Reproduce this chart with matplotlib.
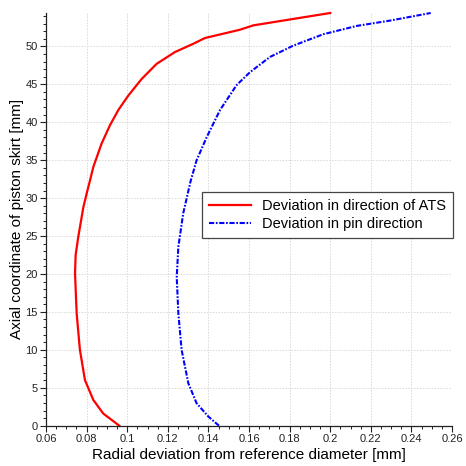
import matplotlib
matplotlib.use("Agg")
import matplotlib.pyplot as plt
from matplotlib.ticker import MultipleLocator

plt.rcParams['font.family'] = ['Liberation Sans', 'DejaVu Sans']

# Deviation in direction of ATS
ats_x = [0.0961, 0.0882, 0.0833, 0.0792, 0.0767, 0.0751, 0.0743, 0.0746, 0.0759,
         0.0784, 0.0804, 0.0817, 0.0833, 0.0874, 0.0915, 0.0956, 0.1005, 0.1071,
         0.1145, 0.1235, 0.1326, 0.1383, 0.1556, 0.1621, 0.2000]
ats_y = [0.0, 1.6, 3.4, 6.0, 10.0, 14.8, 20.1, 22.5, 24.9,
         28.8, 31.0, 32.35, 34.1, 37.2, 39.6, 41.6, 43.5, 45.7,
         47.7, 49.25, 50.35, 51.1, 52.2, 52.77, 54.4]

# Deviation in pin direction
pin_x = [0.1452, 0.1400, 0.1342, 0.1301, 0.1268, 0.1252, 0.1244, 0.1252, 0.1276,
         0.1312, 0.1342, 0.1392, 0.1457, 0.1539, 0.1605, 0.1703, 0.1818, 0.1966,
         0.2131, 0.2295, 0.2495]
pin_y = [0.0, 1.2, 2.95, 5.6, 10.0, 14.8, 19.6, 23.6, 28.0,
         32.2, 35.0, 38.05, 41.6, 44.9, 46.6, 48.6, 50.1, 51.6,
         52.7, 53.4, 54.4]

labels = ['Deviation in direction of ATS', 'Deviation in pin direction']

fig = plt.figure(figsize=(4.66, 4.66), dpi=100)
ax = fig.add_axes([46/466, 1 - 425.7/466, 406/466, 412.7/466])

ax.plot(ats_x, ats_y, color='#ff0000', lw=1.6, label=labels[0], clip_on=False)
ax.plot(pin_x, pin_y, color='#0000ff', lw=1.5, dashes=(2.5, 0.8, 0.8, 0.8), label=labels[1],
        clip_on=False)

ax.set_xlim(0.06, 0.26)
ax.xaxis.set_minor_locator(MultipleLocator(0.005))
ax.yaxis.set_major_locator(MultipleLocator(5))
ax.yaxis.set_minor_locator(MultipleLocator(1))
ax.set_xticks([0.06, 0.08, 0.1, 0.12, 0.14, 0.16, 0.18, 0.2, 0.22, 0.24, 0.26])
ax.set_xticklabels(['0.06', '0.08', '0.1', '0.12', '0.14', '0.16', '0.18', '0.2', '0.22', '0.24', '0.26'])
ax.set_ylim(0, 54.4)

ax.spines['top'].set_visible(False)
ax.spines['right'].set_visible(False)
for s in ['left', 'bottom']:
    ax.spines[s].set_color('#222222')
    ax.spines[s].set_linewidth(0.9)

ax.tick_params(which='major', direction='out', length=4, width=0.8, labelsize=8, colors='#222222', pad=2)
ax.tick_params(which='minor', direction='out', length=2.5, width=0.7, colors='#222222')
ax.grid(True, which='major', color='#d8d8d8', linestyle=(0, (1.5, 1.5)), linewidth=0.7)
ax.set_axisbelow(True)

ax.set_xlabel('Radial deviation from reference diameter [mm]', fontsize=11, labelpad=3)
ax.set_ylabel('Axial coordinate of piston skirt [mm]', fontsize=11, labelpad=1)

leg = ax.legend(loc='lower right', bbox_to_anchor=(1.002, 0.455), fontsize=10.5, frameon=True,
                fancybox=False, edgecolor='#444444', framealpha=1, handlelength=2.9,
                borderpad=0.45, labelspacing=0.3, handletextpad=0.75, borderaxespad=0)
leg.get_frame().set_linewidth(0.9)

fig.savefig('out.png', dpi=100)
